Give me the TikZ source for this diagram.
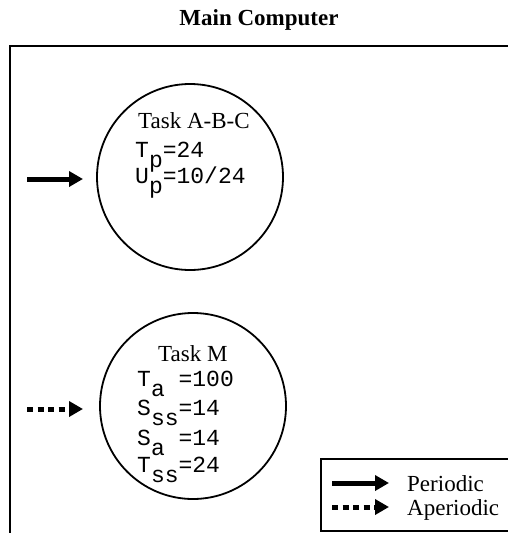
\documentclass[tikz,border=0pt]{standalone}
\usepackage{fontspec}
\setmainfont{Liberation Serif}
\newfontfamily\monofont{Liberation Mono}
\usetikzlibrary{arrows.meta}
\begin{document}
\begin{tikzpicture}[x=1pt,y=-1pt,
  txt/.style={anchor=base west, inner sep=0pt, font=\fontsize{23}{27}\selectfont},
  mono/.style={anchor=base west, inner sep=0pt, font=\fontsize{23}{27}\monofont},
  task/.style={circle, draw, line width=1.8pt, minimum size=186pt, inner sep=0pt},
  flow/.style={line width=5pt, -{Triangle[length=14pt,width=15pt]}},
  aflow/.style={flow, dash pattern=on 6pt off 4.5pt},
  frame/.style={line width=2pt}]
\useasboundingbox (0,0) rectangle (508,533);
\clip (0,0) rectangle (508,533);
% title
\node[txt, anchor=base, font=\fontsize{23}{27}\selectfont\bfseries] (title) at (259,25) {Main Computer};
% frame
\draw[frame] (512,46) -- (10,46) -- (10,540);
% circles
\node[task] (abc) at (190,177) {};
\node[task] (m) at (193,406) {};
% texts in circle 1
\node[txt] (abcname) at (138,128) {Task A-B-C};
\node[mono] (tp) at (135,157) {T\raisebox{-10pt}{p}=24};
\node[mono] (up) at (135,183) {U\raisebox{-10pt}{p}=10/24};
% texts in circle 2
\node[txt] (mname) at (158,361) {Task M};
\node[mono] (ta) at (137,386) {T\raisebox{-10pt}{a} =100};
\node[mono] (sss) at (137,415) {S\raisebox{-10pt}{ss}=14};
\node[mono] (sa) at (137,445) {S\raisebox{-10pt}{a} =14};
\node[mono] (tss) at (137,472) {T\raisebox{-10pt}{ss}=24};
% input arrows
\coordinate (p0) at (27,179);
\coordinate (p1) at (83,179);
\draw[flow] (p0) -- (p1);
\coordinate (a0) at (27,409);
\coordinate (a1) at (83,409);
\draw[aflow] (a0) -- (a1);
% legend
\draw[frame] (512,459) -- (321,459) -- (321,531) -- (512,531);
\coordinate (lp0) at (332,483);
\coordinate (lp1) at (389,483);
\draw[flow] (lp0) -- (lp1);
\coordinate (la0) at (332,507);
\coordinate (la1) at (389,507);
\draw[aflow] (la0) -- (la1);
\node[txt] (per) at (407,491) {Periodic};
\node[txt] (aper) at (407,515) {Aperiodic};
\end{tikzpicture}
\end{document}
